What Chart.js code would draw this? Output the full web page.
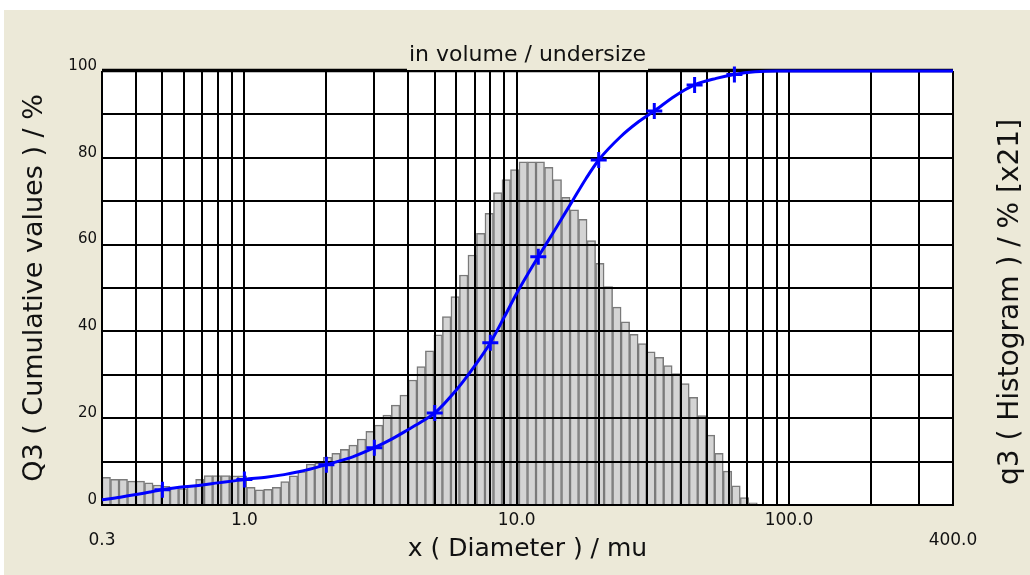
<!DOCTYPE html>
<html>
<head>
<meta charset="utf-8">
<script src="https://cdn.jsdelivr.net/npm/chart.js@4.4.1/dist/chart.umd.min.js"></script>
<style>
html,body{margin:0;padding:0;background:#fff;}
#c{display:block;}
</style>
</head>
<body>
<canvas id="c" width="1030" height="575"></canvas>
<script>
// ---- data ----
const xMin = 0.3;
const xMax = 400;
const classesPerDecade = 32;           // histogram classes: 32 per decade starting at 0.3 mu
const q3Histogram = [                  // q3 histogram values, shown in left-axis units ([x21])
  6.4, 5.9, 5.9, 5.5, 5.5, 5.1, 4.6, 4.3, 4.0, 3.8,
  4.4, 5.9, 6.8, 6.8, 6.8, 6.7, 6.7, 4.1, 3.5, 3.6,
  4.1, 5.4, 6.7, 7.7, 9.4, 9.7, 11.0, 11.9, 12.8, 13.8,
  15.2, 17.0, 18.4, 20.7, 23.0, 25.3, 28.8, 31.9, 35.5, 39.2,
  43.4, 48.0, 53.0, 57.6, 62.6, 67.2, 72.0, 75.0, 77.3, 79.1,
  79.1, 79.1, 77.8, 75.0, 70.9, 68.0, 65.8, 60.9, 55.7, 50.3,
  45.6, 42.2, 39.3, 37.2, 35.3, 34.0, 32.1, 30.3, 28.0, 24.8,
  20.6, 16.1, 11.9, 7.8, 4.4, 1.7, 0.5
];
const q3Sizes = [0.3, 0.35, 0.4, 0.45, 0.5, 0.6, 0.7, 0.8, 0.9, 1.0, 1.2, 1.4, 1.6, 1.8, 2.0, 2.5, 3.0, 3.5, 4.0, 4.5, 5.0, 6.0, 7.0, 8.0, 9.0, 10.0, 11.0, 12.0, 14.0, 16.0, 18.0, 20.0, 24.0, 28.0, 32.0, 38.0, 45.0, 54.0, 63.0, 75.0, 90.0, 400.0];
const q3Cumulative = [1.2, 1.8, 2.4, 3.0, 3.5, 4.2, 4.6, 5.1, 5.5, 5.9, 6.4, 7.0, 7.7, 8.5, 9.3, 11.1, 13.2, 15.3, 17.4, 19.3, 21.2, 26.5, 32.0, 37.4, 43.3, 48.8, 53.3, 57.2, 64.0, 70.0, 75.3, 79.5, 84.8, 88.3, 90.8, 94.2, 96.8, 98.3, 99.2, 99.8, 100, 100];
const markerSizes = [0.5, 1.0, 2.0, 3.0, 5.0, 8.0, 12.0, 20.0, 32.0, 45.0, 63.0];
const xGridTicks = [0.3, 0.4, 0.5, 0.6, 0.7, 0.8, 0.9, 1, 2, 3, 4, 5, 6, 7, 8, 9, 10, 20, 30, 40, 50, 60, 70, 80, 90, 100, 200, 300, 400];
const xTickLabels = {'0.3': '0.3', '1': '1.0', '10': '10.0', '100': '100.0', '400': '400.0'};
const xEdgeLabels = ['0.3', '400'];
const yLabelStep = 20;
const titleText = 'in volume / undersize';
const rightTitleText = 'q3 ( Histogram ) / % [x21]';

// ---- chart ----
const FONT = '"DejaVu Sans", sans-serif';
const classCenter = i => xMin * Math.pow(10, (i + 0.5) / classesPerDecade);

const histData = q3Histogram.map((v, i) => ({x: classCenter(i), y: v}));
const curveData = q3Sizes.map((s, i) => ({x: s, y: q3Cumulative[i]}));

const bgPlugin = {
  id: 'bg',
  beforeDraw(chart) {
    const {ctx, width, height, chartArea: a} = chart;
    ctx.save();
    ctx.fillStyle = '#ffffff';
    ctx.fillRect(0, 0, width, height);
    ctx.fillStyle = '#ece9d8';
    ctx.fillRect(4, 10, width - 4, height - 10);
    ctx.fillStyle = '#ffffff';
    ctx.fillRect(a.left, a.top, a.right - a.left, a.bottom - a.top);
    ctx.restore();
  }
};

const gridPlugin = {
  id: 'gridFrame',
  afterDatasetDraw(chart, args) {
    if (args.index !== 0) return;
    const {ctx, chartArea: a, scales: {x, y}} = chart;
    ctx.save();
    ctx.strokeStyle = '#000';
    ctx.lineWidth = 2;
    ctx.beginPath();
    x.ticks.forEach(t => {
      const px = Math.round(x.getPixelForValue(t.value));
      ctx.moveTo(px, a.top); ctx.lineTo(px, a.bottom);
    });
    y.ticks.forEach(t => {
      const py = Math.round(y.getPixelForValue(t.value));
      ctx.moveTo(a.left, py); ctx.lineTo(a.right, py);
    });
    ctx.stroke();
    // frame
    ctx.lineWidth = 2;
    ctx.beginPath();
    ctx.moveTo(a.left, a.top); ctx.lineTo(a.left, a.bottom);
    ctx.lineTo(a.right, a.bottom); ctx.lineTo(a.right, a.top);
    ctx.stroke();
    ctx.font = '22px ' + FONT;
    const tw = ctx.measureText(titleText).width;
    const cx = (a.left + a.right) / 2;
    const g0 = cx - tw / 2 - 2, g1 = cx + tw / 2 + 2;
    ctx.lineWidth = 3.5;
    ctx.beginPath();
    ctx.moveTo(a.left, a.top - 0.5); ctx.lineTo(g0, a.top - 0.5);
    ctx.moveTo(g1, a.top - 0.5); ctx.lineTo(a.right, a.top - 0.5);
    ctx.stroke();
    ctx.lineWidth = 1.2;
    ctx.beginPath();
    ctx.moveTo(g0, a.top + 0.6); ctx.lineTo(g1, a.top + 0.6);
    ctx.stroke();
    ctx.restore();
  }
};

const titlePlugin = {
  id: 'topTitle',
  afterDraw(chart) {
    const {ctx, chartArea: a} = chart;
    ctx.save();
    ctx.font = '22px ' + FONT;
    ctx.fillStyle = '#111';
    ctx.textAlign = 'center';
    ctx.textBaseline = 'middle';
    ctx.fillText(titleText, (a.left + a.right) / 2, 55);
    // right axis title, reading bottom-to-top
    ctx.font = '28px ' + FONT;
    ctx.translate(1011, 302);
    ctx.rotate(-Math.PI / 2);
    ctx.fillText(rightTitleText, 0, 0);
    ctx.restore();
  }
};

new Chart(document.getElementById('c'), {
  data: {
    datasets: [
      {
        type: 'bar',
        label: 'q3',
        data: histData,
        xAxisID: 'x',
        yAxisID: 'y2',
        backgroundColor: '#d4d4d4',
        borderColor: '#7a7a7a',
        borderWidth: 1.5,
        borderSkipped: 'bottom',
        barPercentage: 1,
        categoryPercentage: 1,
        order: 2
      },
      {
        type: 'line',
        label: 'Q3',
        data: curveData,
        xAxisID: 'x',
        yAxisID: 'y',
        borderColor: '#0000ff',
        borderWidth: 3,
        cubicInterpolationMode: 'monotone',
        pointStyle: 'cross',
        pointRadius: ctx => markerSizes.includes(q3Sizes[ctx.dataIndex]) ? 8 : 0,
        pointHoverRadius: 0,
        pointBorderWidth: 3,
        pointBorderColor: '#0000ff',
        clip: false,
        order: 1
      }
    ]
  },
  options: {
    responsive: false,
    animation: false,
    devicePixelRatio: 1,
    events: [],
    layout: {padding: {top: 71, left: 0, right: 0, bottom: 0}},
    plugins: {legend: {display: false}, tooltip: {enabled: false}, title: {display: false}},
    scales: {
      x: {
        type: 'logarithmic',
        position: 'bottom',
        min: xMin,
        max: xMax,
        afterBuildTicks: s => { s.ticks = xGridTicks.map(v => ({value: v})); },
        afterFit: s => { s.height = 70; },
        grid: {display: false, drawTicks: false},
        border: {display: false},
        ticks: {
          autoSkip: false,
          maxRotation: 0,
          padding: 5,
          color: '#111',
          font: {family: FONT, size: 17},
          callback: v => {
            const lab = xTickLabels[String(v)];
            if (!lab) return '';
            return xEdgeLabels.includes(String(v)) ? ['', lab] : lab;
          }
        },
        title: {display: true, text: 'x ( Diameter ) / mu', color: '#111',
          font: {family: FONT, size: 25}, padding: {top: 0, bottom: 11}}
      },
      y: {
        type: 'linear',
        position: 'left',
        min: 0,
        max: 100,
        afterFit: s => { s.width = 102; },
        grid: {display: false, drawTicks: false},
        border: {display: false},
        ticks: {
          stepSize: 10,
          padding: 5,
          labelOffset: -5,
          color: '#111',
          font: {family: FONT, size: 15},
          callback: v => (v % yLabelStep === 0 ? String(v) : '')
        },
        title: {display: true, text: 'Q3 ( Cumulative values ) / %', color: '#111',
          font: {family: FONT, size: 27}, padding: {top: 19, bottom: 0}}
      },
      y2: {
        type: 'linear',
        position: 'right',
        min: 0,
        max: 100,
        afterFit: s => { s.width = 77; },
        grid: {display: false, drawTicks: false},
        border: {display: false},
        ticks: {display: false},
        title: {display: false}
      }
    }
  },
  plugins: [bgPlugin, gridPlugin, titlePlugin]
});
</script>
</body>
</html>
